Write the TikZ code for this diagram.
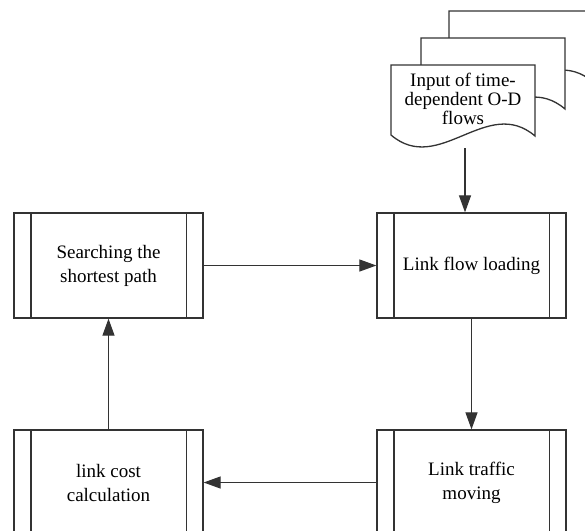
\documentclass[tikz,border=0pt]{standalone}
\usepackage{fontspec}
\setmainfont{Liberation Serif}
\usetikzlibrary{arrows.meta}
\begin{document}
\begin{tikzpicture}[x=1pt,y=-1pt,line width=1.3pt,
  linecol/.style={draw=black!80},
  proc/.style={linecol, rectangle, minimum width=189pt, minimum height=105pt,
    inner sep=0pt, align=center, text=black, font=\fontsize{19}{24}\selectfont},
  docpath/.style={linecol, fill=white, line width=1.3pt},
  arr/.style={linecol, -{Triangle[length=17pt,width=12pt]}, line width=1.2pt}]
\clip (0,0) rectangle (585,530);
\fill[white] (0,0) rectangle (585,530);
% stacked documents
\foreach \dx/\dy in {58/-54, 30/-27, 0/0} {
  \begin{scope}[shift={(\dx,\dy)}]
    \draw[docpath] (391,65) -- (535,65) -- (535,136)
      .. controls (487,95) and (439,176) .. (391,135) -- cycle;
  \end{scope}
}
\node[align=center, text=black, font=\fontsize{19}{19}\selectfont] (doc) at (463,99)
  {Input of time-\\dependent O-D\\flows};
\coordinate (docb) at (465,148);
% process boxes
\node[proc] (search) at (108.5,265.5) {Searching the\\shortest path};
\node[proc] (flow) at (471.5,265.5) {Link flow loading};
\node[proc] (cost) at (108.5,482.5) {link cost\\calculation};
\node[proc] (traffic) at (471.5,482.5) {Link traffic\\moving};
\foreach \n in {search,flow,cost,traffic} {
  \draw[linecol] ([xshift=17.5pt]\n.north west) -- ([xshift=17.5pt]\n.south west);
  \draw[linecol] ([xshift=-17.5pt]\n.north east) -- ([xshift=-17.5pt]\n.south east);
}
% connectors
\draw[arr] (docb) -- (docb |- flow.north);
\draw[arr] (search.east) -- (flow.west);
\draw[arr] (flow.south) -- (traffic.north);
\draw[arr] (traffic.west) -- (cost.east);
\draw[arr] (cost.north) -- (search.south);
\end{tikzpicture}
\end{document}
